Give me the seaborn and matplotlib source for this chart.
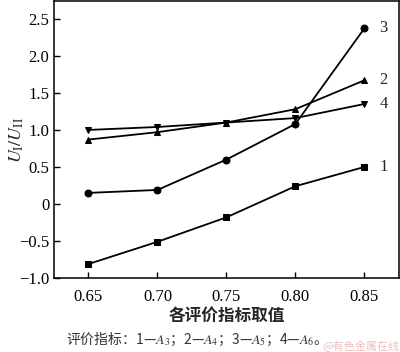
import matplotlib
matplotlib.use("Agg")
import matplotlib.pyplot as plt
import pandas as pd
import seaborn as sns

# evaluation index value (x axis)
x_vals = [0.65, 0.70, 0.75, 0.80, 0.85]

# U_I/U_II for each evaluation index
s1 = [-0.81, -0.51, -0.18, 0.24, 0.50]   # 1 - A3
s2 = [0.87, 0.97, 1.10, 1.28, 1.67]      # 2 - A4
s3 = [0.15, 0.19, 0.60, 1.08, 2.37]      # 3 - A5
s4 = [1.00, 1.04, 1.10, 1.16, 1.35]      # 4 - A6

series_names = ["1", "2", "3", "4"]
markers = {"1": "s", "2": "^", "3": "o", "4": "v"}

df = pd.DataFrame({"x": x_vals * 4,
                   "y": s1 + s2 + s3 + s4,
                   "s": [n for n in series_names for _ in x_vals]})

sns.set_style("ticks")
plt.rcParams["font.family"] = ["Liberation Serif", "Noto Sans CJK SC", "DejaVu Sans"]
plt.rcParams["mathtext.fontset"] = "stix"

fig = plt.figure(figsize=(4.0, 3.52), dpi=100)
ax = fig.add_axes([0.135, 0.21, 0.862, 0.787])

sns.lineplot(data=df, x="x", y="y", hue="s", style="s", markers=markers,
             dashes=False, palette=["black"] * 4, markersize=5, linewidth=1.3,
             markeredgecolor="black", legend=False, ax=ax)

# series labels at the right end
for name, ys in zip(series_names, [s1, s2, s3, s4]):
    ax.text(x_vals[-1] + 0.011, ys[-1], name, fontsize=12, va="center", ha="left")

ax.set_xlim(0.625, 0.875)
ax.set_ylim(-1.0, 2.74)
ax.set_xticks(x_vals)
ax.set_xticklabels(["0.65", "0.70", "0.75", "0.80", "0.85"])
ax.set_yticks([-1.0, -0.5, 0, 0.5, 1.0, 1.5, 2.0, 2.5])
ax.set_yticklabels(["\u22121.0", "\u22120.5", "0", "0.5", "1.0", "1.5", "2.0", "2.5"])
ax.tick_params(direction="in", length=4, width=1, labelsize=12, colors="black")
ax.tick_params(axis="x", pad=8)
for sp in ax.spines.values():
    sp.set_linewidth(1.1)
    sp.set_color("black")

ax.set_xlabel("各评价指标取值", fontsize=12, fontweight="bold",
              family=["Noto Sans CJK SC"], labelpad=1)
ax.set_ylabel(r"$U_{\rm I}/U_{\rm II}$", fontsize=13)
ax.yaxis.set_label_coords(-0.082, 0.5)

fig.text(0.165, 0.022, "评价指标：1—$A_3$；2—$A_4$；3—$A_5$；4—$A_6$。",
         fontsize=10, color="#333333", family=["Noto Sans CJK SC", "DejaVu Sans"])
fig.text(0.998, 0.004, "@有色金属在线", fontsize=8, color="#e8b0b0", ha="right",
         family=["Noto Sans CJK SC", "DejaVu Sans"], alpha=0.8)

fig.savefig("out.png", dpi=100)
